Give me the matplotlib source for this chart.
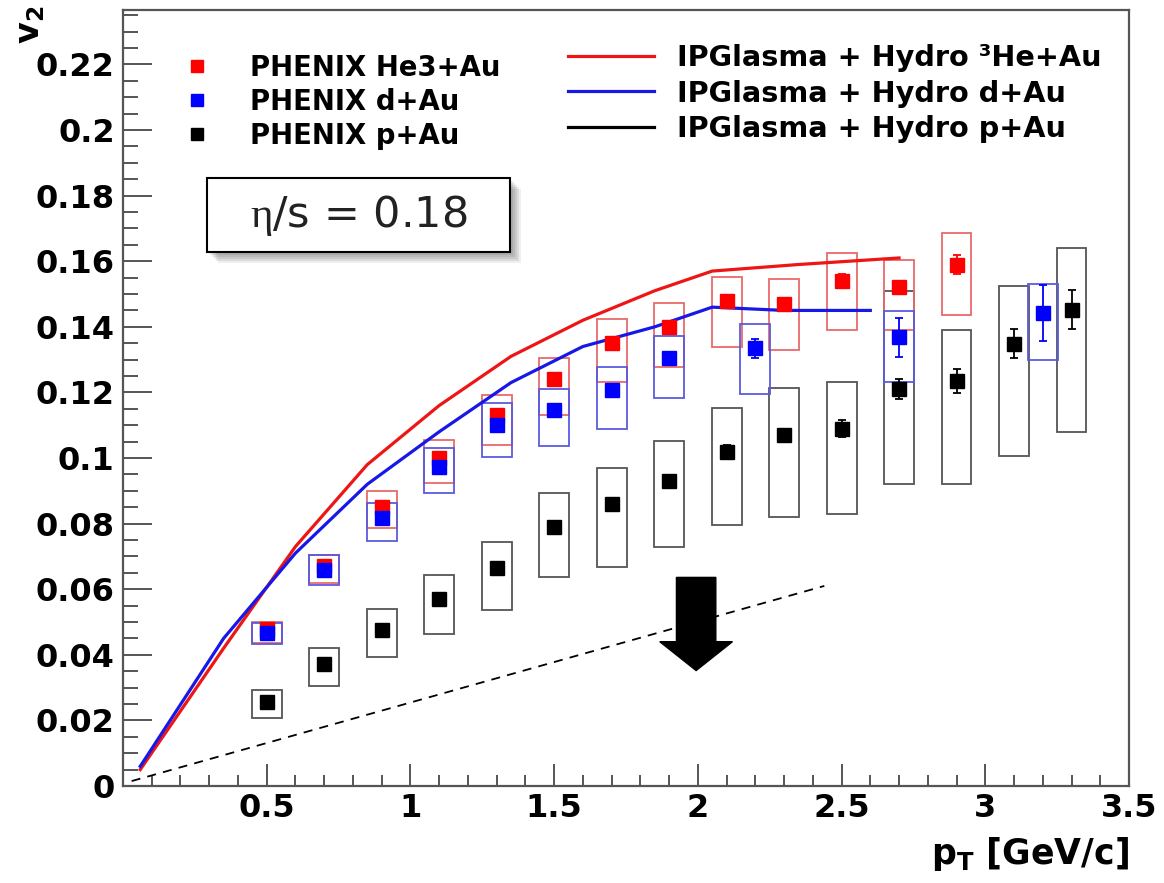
import matplotlib.pyplot as plt
import matplotlib.ticker as ticker
from matplotlib.patches import Rectangle, FancyArrow
from matplotlib.lines import Line2D

plt.rcParams['font.family'] = 'DejaVu Sans'
plt.rcParams['mathtext.fontset'] = 'custom'
plt.rcParams['mathtext.rm'] = 'Liberation Serif'
plt.rcParams['mathtext.bf'] = 'DejaVu Sans:bold'

# PHENIX 3He+Au
pt_he3 = [0.5, 0.7, 0.9, 1.1, 1.3, 1.5, 1.7, 1.9, 2.1, 2.3, 2.5, 2.7, 2.9]
v2_he3 = [0.048, 0.067, 0.085, 0.100, 0.113, 0.124, 0.135, 0.140, 0.148, 0.147, 0.154, 0.152, 0.159]
stat_he3 = [0.001, 0.001, 0.001, 0.001, 0.001, 0.001, 0.0015, 0.0015, 0.0015, 0.0015, 0.002, 0.002, 0.003]
sys_lo_he3 = [0.0435, 0.062, 0.0786, 0.0923, 0.104, 0.1131, 0.1233, 0.1278, 0.134, 0.133, 0.139, 0.139, 0.1437]
sys_hi_he3 = [0.0500, 0.0704, 0.090, 0.1055, 0.1192, 0.1304, 0.1423, 0.1472, 0.1553, 0.1545, 0.1626, 0.1604, 0.1685]

# PHENIX d+Au
pt_dau = [0.5, 0.7, 0.9, 1.1, 1.3, 1.5, 1.7, 1.9, 2.2, 2.7, 3.2]
v2_dau = [0.0467, 0.066, 0.0816, 0.0972, 0.110, 0.1146, 0.1207, 0.1304, 0.1334, 0.1368, 0.1443]
stat_dau = [0.001, 0.001, 0.001, 0.001, 0.0015, 0.0015, 0.002, 0.002, 0.003, 0.006, 0.0085]
sys_lo_dau = [0.0433, 0.0613, 0.0748, 0.0892, 0.1004, 0.1037, 0.109, 0.1182, 0.1195, 0.1233, 0.130]
sys_hi_dau = [0.0496, 0.0704, 0.0864, 0.103, 0.1167, 0.121, 0.1278, 0.1372, 0.141, 0.1449, 0.1532]

# PHENIX p+Au
pt_pau = [0.5, 0.7, 0.9, 1.1, 1.3, 1.5, 1.7, 1.9, 2.1, 2.3, 2.5, 2.7, 2.9, 3.1, 3.3]
v2_pau = [0.0257, 0.0372, 0.0476, 0.0569, 0.0664, 0.0789, 0.086, 0.0931, 0.1019, 0.107, 0.109,
          0.121, 0.1235, 0.1349, 0.1452]
stat_pau = [0.001, 0.001, 0.001, 0.001, 0.001, 0.0015, 0.0015, 0.0015, 0.002, 0.002, 0.0025,
            0.003, 0.0036, 0.0045, 0.006]
sys_lo_pau = [0.0206, 0.0305, 0.0392, 0.0463, 0.0537, 0.0637, 0.0668, 0.073, 0.0796, 0.0819, 0.0829,
              0.0921, 0.092, 0.1006, 0.108]
sys_hi_pau = [0.0293, 0.042, 0.0539, 0.0643, 0.0745, 0.0893, 0.0969, 0.1053, 0.1151, 0.1212, 0.1233,
              0.151, 0.139, 0.1526, 0.164]

# IPGlasma + hydro curves
pt_hydro_he3 = [0.06, 0.35, 0.6, 0.85, 1.1, 1.35, 1.6, 1.85, 2.05, 2.35, 2.7]
v2_hydro_he3 = [0.005, 0.042, 0.073, 0.098, 0.116, 0.131, 0.142, 0.151, 0.157, 0.159, 0.161]
pt_hydro_dau = [0.06, 0.35, 0.6, 0.85, 1.1, 1.35, 1.6, 1.85, 2.05, 2.3, 2.6]
v2_hydro_dau = [0.006, 0.045, 0.071, 0.092, 0.108, 0.123, 0.134, 0.140, 0.146, 0.145, 0.145]

# dashed reference line and the arrow
pt_dash = [0.03, 2.44]
v2_dash = [0.0015, 0.061]
arrow_x, arrow_top, arrow_tip = 1.994, 0.0636, 0.0352

box_w = 0.104

fig = plt.figure(figsize=(11.64, 8.83), dpi=100)
ax = fig.add_axes([123 / 1164, 97 / 883, 1006 / 1164, 776 / 883])
ax.set_xlim(0, 3.5)
ax.set_ylim(0, 0.2366)

def sys_boxes(x, lo, hi, color):
    h = [b - a for a, b in zip(lo, hi)]
    ax.bar(x, h, bottom=lo, width=box_w, fill=False, edgecolor=color, linewidth=1.3, zorder=2)

sys_boxes(pt_pau, sys_lo_pau, sys_hi_pau, '#555555')
sys_boxes(pt_he3, sys_lo_he3, sys_hi_he3, '#e86a6a')
sys_boxes(pt_dau, sys_lo_dau, sys_hi_dau, '#5a5ae0')

ax.plot(pt_hydro_he3, v2_hydro_he3, color='#ee1515', lw=2.3, zorder=3)
ax.plot(pt_hydro_dau, v2_hydro_dau, color='#1818e6', lw=2.3, zorder=3)
ax.plot(pt_dash, v2_dash, color='black', lw=1.3, dashes=(5, 4), zorder=3)

for x, y, e, c in [(pt_he3, v2_he3, stat_he3, '#ff0000'),
                   (pt_dau, v2_dau, stat_dau, '#0000ff'),
                   (pt_pau, v2_pau, stat_pau, '#000000')]:
    ax.errorbar(x, y, yerr=e, fmt='s', ms=9.5, color=c, mec=c, ecolor=c,
                elinewidth=1.3, capsize=3, capthick=1.3, zorder=4)

ax.add_patch(FancyArrow(arrow_x, arrow_top, 0, arrow_tip - arrow_top, width=0.137,
                        head_width=0.253, head_length=0.0088, length_includes_head=True,
                        color='black', zorder=5))

# axes style
for s in ax.spines.values():
    s.set_color('#555555')
    s.set_linewidth(1.6)
ax.xaxis.set_major_locator(ticker.MultipleLocator(0.5))
ax.xaxis.set_minor_locator(ticker.MultipleLocator(0.1))
ax.yaxis.set_major_locator(ticker.MultipleLocator(0.02))
ax.yaxis.set_minor_locator(ticker.MultipleLocator(0.005))
fmt = ticker.FuncFormatter(lambda v, _: f'{v:g}')
ax.xaxis.set_major_formatter(fmt)
ax.yaxis.set_major_formatter(fmt)
ax.tick_params(which='both', direction='in', color='#555555', width=1.4, labelsize=23)
ax.tick_params(axis='x', which='major', length=16, pad=5)
ax.tick_params(axis='x', which='minor', length=8)
ax.tick_params(axis='y', which='major', length=21, pad=6)
ax.tick_params(axis='y', which='minor', length=11)
ax.set_xticks([0.5, 1, 1.5, 2, 2.5, 3, 3.5])
for lab in ax.get_xticklabels() + ax.get_yticklabels():
    lab.set_fontweight('bold')

ax.text(-0.0924, 0.981, r'$\mathbf{v_2}$', transform=ax.transAxes, rotation=90,
        ha='center', va='center', fontsize=24)
ax.text(1.0, -0.087, r'$\mathbf{p_T}$ [GeV/c]', transform=ax.transAxes,
        ha='right', va='center', fontsize=25, fontweight='bold')

# legends
data_handles = [Line2D([], [], ls='none', marker='s', ms=9, color=c) for c in ['#ff0000', '#0000ff', '#000000']]
leg1 = ax.legend(data_handles, ['PHENIX He3+Au', 'PHENIX d+Au', 'PHENIX p+Au'],
                 loc='upper left', bbox_to_anchor=(0.0596, 0.9436), frameon=False,
                 prop={'size': 19.8, 'weight': 'bold'}, handlelength=1.0, handletextpad=1.42,
                 labelspacing=0.22, borderpad=0, borderaxespad=0)
ax.add_artist(leg1)
line_handles = [Line2D([], [], color=c, lw=2.3) for c in ['#ee1515', '#1818e6', '#000000']]
ax.legend(line_handles, ['IPGlasma + Hydro \u00b3He+Au', 'IPGlasma + Hydro d+Au',
                         'IPGlasma + Hydro p+Au'],
          loc='upper left', bbox_to_anchor=(0.4423, 0.9565), frameon=False,
          prop={'size': 20.7, 'weight': 'bold'}, handlelength=3.0, handletextpad=0.8,
          labelspacing=0.27, borderpad=0, borderaxespad=0)

# eta/s box with a soft shadow
bx, by, bw, bh = 0.0835, 0.688, 0.301, 0.0954
for i, a in enumerate([0.10, 0.10, 0.10, 0.10, 0.08]):
    d = 0.003 + 0.002 * i
    ax.add_patch(Rectangle((bx + d, by - d * 1.3), bw, bh, transform=ax.transAxes,
                           facecolor='#333333', edgecolor='none', alpha=a, zorder=6))
ax.add_patch(Rectangle((bx, by), bw, bh, transform=ax.transAxes, facecolor='white',
                       edgecolor='black', lw=1.5, zorder=7))
ax.text(bx + bw / 2, by + bh / 2, r'$\mathrm{\eta}$/s = 0.18', transform=ax.transAxes,
        ha='center', va='center', fontsize=31, color='#222222', zorder=8)

fig.savefig('out.png', dpi=100)
